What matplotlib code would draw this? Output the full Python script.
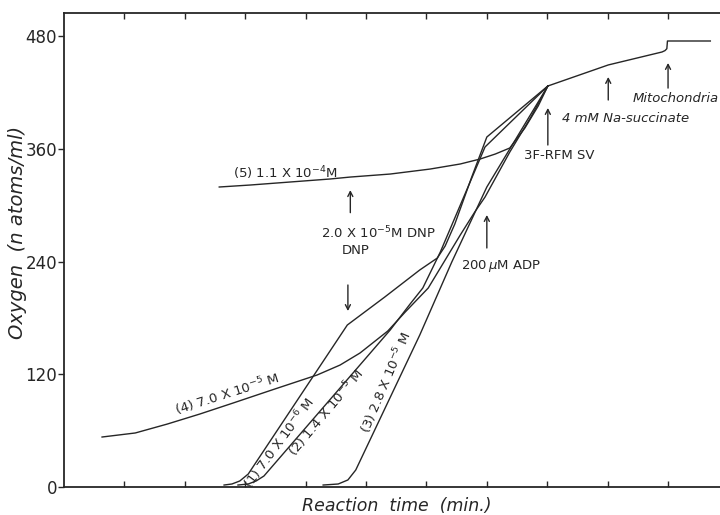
import matplotlib
matplotlib.use("Agg")
import matplotlib.pyplot as plt

# ---- data (reaction time in min, oxygen in n atoms/ml) ----
common_x = [8.01, 9.01, 9.90, 9.95, 9.98, 9.99, 10.70]
common_y = [426.8, 449.2, 463.0, 464.5, 466.5, 474.7, 474.7]

c1_x = [2.65, 2.78, 2.91, 3.05, 4.69, 5.31, 5.89, 6.18, 6.31, 6.47, 6.75, 7.00, 8.01]
c1_y = [2.1, 3.2, 6.4, 13.8, 172.4, 202.2, 231.0, 243.7, 256.5, 279.9, 329.9, 372.5, 426.8]

c2_x = [2.88, 3.05, 3.18, 3.31, 5.40, 5.73, 5.94, 6.23, 6.97, 8.01]
c2_y = [2.1, 3.2, 6.4, 11.7, 167.1, 194.8, 211.8, 250.1, 361.9, 426.8]

c3_x = [4.29, 4.54, 4.70, 4.83, 5.89, 6.42, 7.00, 8.01]
c3_y = [2.1, 3.2, 7.5, 18.1, 161.8, 239.5, 319.3, 426.8]

c4_x = [0.63, 1.18, 1.71, 2.25, 2.80, 3.49, 4.19, 4.57, 4.90, 5.36, 5.65, 6.03,
        6.31, 6.56, 6.80, 6.97, 7.38, 7.72, 8.01]
c4_y = [53.2, 57.5, 67.0, 77.7, 89.4, 104.3, 119.2, 129.8, 142.6, 166.0, 186.3,
        211.8, 241.6, 268.2, 292.7, 308.6, 356.5, 392.7, 426.8]

c5_x = [2.57, 3.08, 3.74, 4.40, 4.74, 5.40, 6.06, 6.56, 6.89, 7.14, 7.38, 7.63, 7.85, 8.01]
c5_y = [319.3, 321.4, 324.6, 327.8, 329.9, 333.1, 338.4, 343.8, 349.1, 354.4, 360.8,
        382.1, 405.5, 426.8]

y_ticks = [0, 120, 240, 360, 480]
x_ticks = [1, 2, 3, 4, 5, 6, 7, 8, 9, 10]

curve_labels = [
    ("(4) 7.0 X 10$^{-5}$ M", 2.70, 98.5, 17.6),
    ("(1) 7.0 X 10$^{-6}$ M", 3.56, 47.0, 53.5),
    ("(2) 1.4 X 10$^{-5}$ M", 4.34, 79.0, 50.0),
    ("(3) 2.8 X 10$^{-5}$ M", 5.33, 110.7, 67.0),
]

# arrows: (x, tail_y, head_y)
arrows = [
    (4.74, 292.0, 316.0),
    (4.70, 215.0, 187.3),
    (7.00, 254.4, 289.5),
    (8.01, 364.0, 403.4),
    (9.01, 411.9, 436.4),
    (10.00, 424.6, 451.3),
]

ink = "#262626"

fig = plt.figure(figsize=(7.2, 5.15), dpi=100)
ax = fig.add_axes([64 / 720, 28 / 515, 656 / 720, 474 / 515])

for xs, ys in [(common_x, common_y), (c1_x, c1_y), (c2_x, c2_y), (c3_x, c3_y),
               (c4_x, c4_y), (c5_x, c5_y)]:
    ax.plot(xs, ys, color=ink, lw=1.0, solid_joinstyle="round")

ax.set_xlim(0, 10.86)
ax.set_ylim(0, 504.5)

for side in ["left", "bottom", "top"]:
    ax.spines[side].set_linewidth(1.3)
    ax.spines[side].set_color(ink)
ax.spines["right"].set_visible(False)

ax.set_yticks(y_ticks)
ax.set_yticklabels([str(v) for v in y_ticks])
ax.tick_params(axis="y", direction="out", length=4, width=1, colors=ink,
               labelsize=12, pad=1)
ax.set_xticks(x_ticks)
ax.set_xticklabels([])
ax.tick_params(axis="x", direction="in", length=4, width=1, colors=ink,
               top=True, bottom=True)

# curve labels
for txt, x, y, rot in curve_labels:
    ax.text(x, y, txt, rotation=rot, ha="center", va="center", fontsize=9.5,
            color=ink, rotation_mode="anchor")

ax.text(3.66, 334.2, "(5) 1.1 X 10$^{-4}$M", ha="center", va="center",
        fontsize=9.5, color=ink)
ax.text(5.21, 270.3, "2.0 X 10$^{-5}$M DNP", ha="center", va="center",
        fontsize=9.5, color=ink)
ax.text(4.83, 251.2, "DNP", ha="center", va="center", fontsize=9.5, color=ink)
ax.text(7.24, 235.2, "200$\\,\\mu$M ADP", ha="center", va="center", fontsize=9.5,
        color=ink)
ax.text(8.20, 353.3, "3F-RFM SV", ha="center", va="center", fontsize=9.5,
        color=ink)
ax.text(9.29, 392.7, "4 mM Na-succinate", ha="center", va="center", fontsize=9.5,
        color=ink, style="italic")
ax.text(10.12, 414.0, "Mitochondria", ha="center", va="center", fontsize=9.5,
        color=ink, style="italic")

for x, ty, hy in arrows:
    ax.annotate("", xy=(x, hy), xytext=(x, ty),
                arrowprops=dict(arrowstyle="->,head_length=0.35,head_width=0.18",
                                color=ink, lw=1.0, shrinkA=0, shrinkB=0))

fig.text(18 / 720, 1 - 232 / 515, "Oxygen  (n atoms/ml)", rotation=90,
         ha="center", va="center", fontsize=14, style="italic", color=ink)
fig.text(397 / 720, 1 - 506 / 515, "Reaction  time  (min.)", ha="center",
         va="center", fontsize=12.5, style="italic", color=ink)

fig.savefig("out.png", dpi=100)
